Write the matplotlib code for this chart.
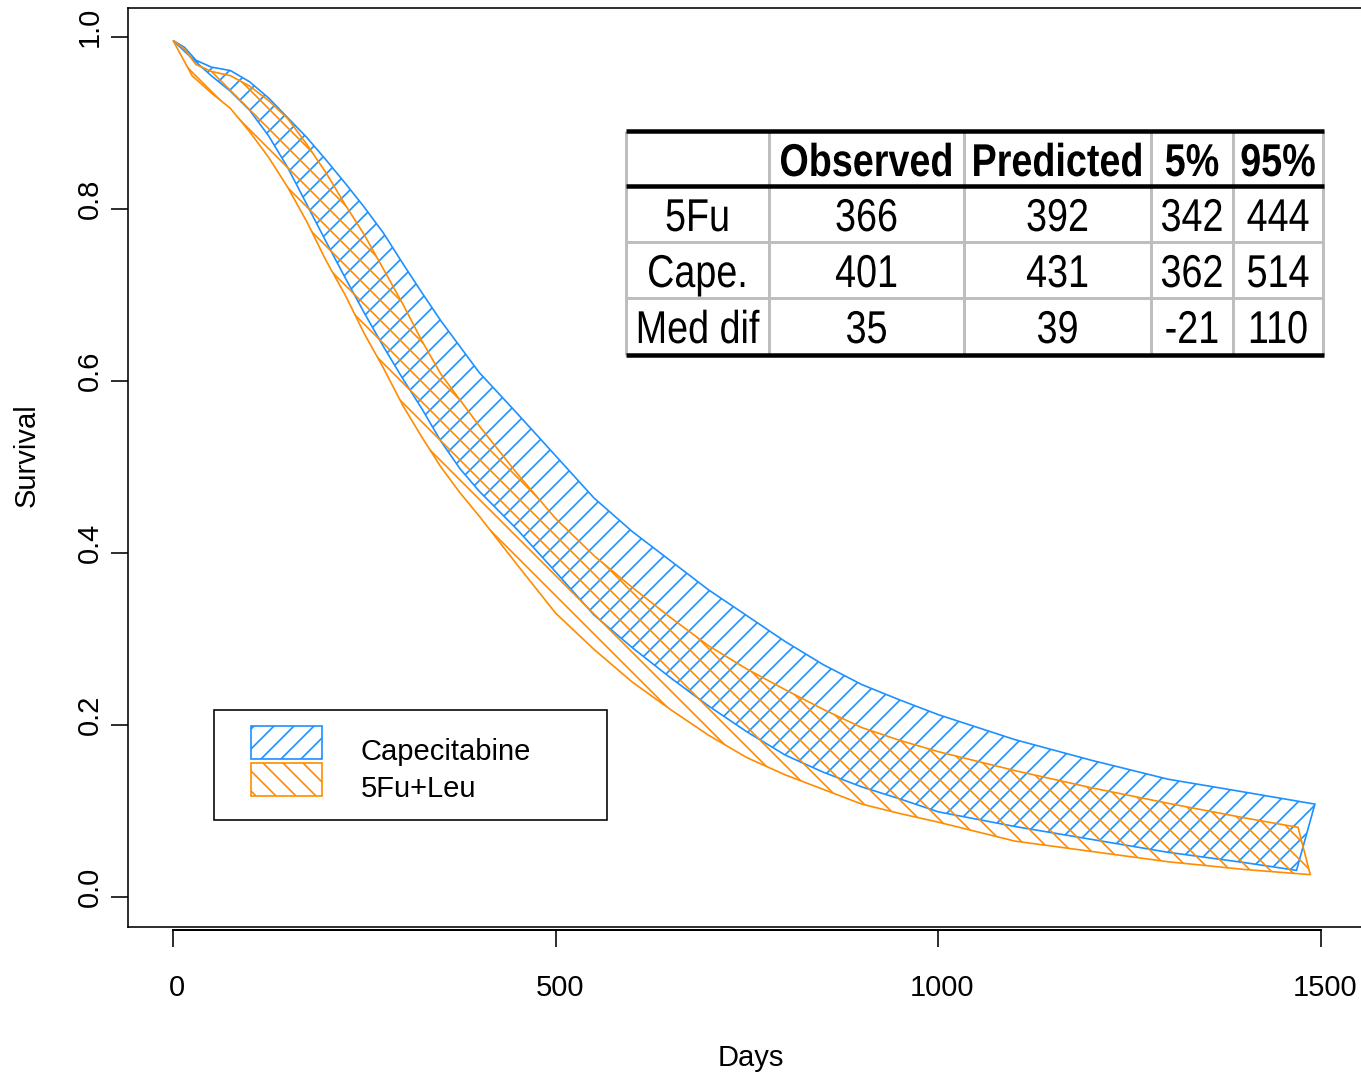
import matplotlib
matplotlib.use("Agg")
import matplotlib.pyplot as plt
from matplotlib.patches import Rectangle
from matplotlib.patheffects import AbstractPathEffect
from matplotlib.transforms import Affine2D, ScaledTranslation

W, H, DPI = 1361, 1073, 120

# survival bands: (days, survival)
cape_hi_days = [0, 15, 30, 50, 75, 100, 125, 150, 175, 200, 225, 250, 275, 300, 325, 350,
                375, 400, 450, 500, 550, 600, 650, 700, 750, 800, 850, 900, 950, 1000,
                1100, 1200, 1300, 1400, 1492]
cape_hi_surv = [0.996, 0.988, 0.973, 0.965, 0.961, 0.948, 0.929, 0.906, 0.883, 0.857, 0.830,
                0.802, 0.772, 0.737, 0.703, 0.670, 0.640, 0.610, 0.562, 0.513, 0.464, 0.425,
                0.391, 0.357, 0.327, 0.297, 0.270, 0.247, 0.229, 0.212, 0.183, 0.159, 0.137,
                0.122, 0.108]
cape_lo_days = [0, 25, 50, 75, 100, 125, 150, 175, 200, 225, 250, 275, 300, 325, 350, 375,
                400, 450, 500, 550, 600, 650, 700, 750, 800, 850, 900, 950, 1000, 1100,
                1200, 1300, 1400, 1468]
cape_lo_surv = [0.996, 0.975, 0.955, 0.937, 0.915, 0.885, 0.848, 0.805, 0.762, 0.720, 0.679,
                0.640, 0.603, 0.568, 0.530, 0.498, 0.472, 0.427, 0.378, 0.328, 0.290, 0.255,
                0.222, 0.192, 0.165, 0.145, 0.128, 0.114, 0.099, 0.082, 0.067, 0.052, 0.040,
                0.031]

fu_hi_days = [0, 15, 30, 50, 75, 100, 125, 150, 175, 200, 225, 250, 275, 300, 325, 350,
              375, 400, 450, 500, 550, 600, 650, 700, 750, 800, 850, 900, 950, 1000, 1100,
              1200, 1300, 1400, 1470]
fu_hi_surv = [0.996, 0.986, 0.968, 0.960, 0.955, 0.943, 0.926, 0.905, 0.875, 0.842, 0.805,
              0.770, 0.730, 0.690, 0.647, 0.608, 0.578, 0.548, 0.492, 0.440, 0.397, 0.360,
              0.325, 0.292, 0.265, 0.241, 0.218, 0.197, 0.182, 0.169, 0.147, 0.127, 0.109,
              0.092, 0.081]
fu_lo_days = [0, 25, 50, 75, 100, 125, 150, 175, 200, 225, 250, 275, 300, 325, 350, 375,
              400, 450, 500, 550, 600, 650, 700, 750, 800, 850, 900, 950, 1000, 1100, 1200,
              1300, 1400, 1486]
fu_lo_surv = [0.996, 0.955, 0.935, 0.917, 0.890, 0.860, 0.825, 0.785, 0.740, 0.700, 0.655,
              0.615, 0.572, 0.535, 0.500, 0.470, 0.443, 0.386, 0.330, 0.288, 0.250, 0.218,
              0.188, 0.162, 0.142, 0.125, 0.108, 0.097, 0.087, 0.065, 0.053, 0.041, 0.032,
              0.026]

legend_labels = ["Capecitabine", "5Fu+Leu"]

table_header = ["", "Observed", "Predicted", "5%", "95%"]
table_rows = ["5Fu", "Cape.", "Med dif"]
observed = [366, 401, 35]
predicted = [392, 431, 39]
q05 = [342, 362, -21]
q95 = [444, 514, 110]

BLUE = "#1E90FF"
ORANGE = "#FF8C00"
GRAY = "#BEBEBE"


def pt(px):
    return px * 72.0 / DPI


class Squeeze(AbstractPathEffect):
    # narrow the glyphs around a fixed x (display pixels), like Arial Narrow
    def __init__(self, cx, sx=0.82):
        super().__init__()
        self.cx = cx
        self.sx = sx

    def draw_path(self, renderer, gc, tpath, affine, rgbFace=None):
        t = affine + Affine2D().translate(-self.cx, 0).scale(self.sx, 1).translate(self.cx, 0)
        renderer.draw_path(gc, tpath, t, rgbFace)


plt.rcParams["font.family"] = ["Liberation Sans", "DejaVu Sans"]
plt.rcParams["hatch.linewidth"] = 1.0

fig = plt.figure(figsize=(W / DPI, H / DPI), dpi=DPI)

# axes box: left 128px, top 8px, bottom 927px, right edge off the canvas
ppd = 1148 / 1500.0
xmin = -45 / ppd
xmax = xmin + 1239 / ppd
ax = fig.add_axes([128 / W, (H - 927) / H, 1239 / W, 919 / H])
ax.set_xlim(xmin, xmax)
ax.set_ylim((897 - 927) / 860.0, (897 - 8) / 860.0)

# bands
ax.fill(cape_hi_days + cape_lo_days[::-1], cape_hi_surv + cape_lo_surv[::-1],
        facecolor="none", edgecolor=BLUE, hatch="//", lw=1.0)
ax.fill(fu_hi_days + fu_lo_days[::-1], fu_hi_surv + fu_lo_surv[::-1],
        facecolor="none", edgecolor=ORANGE, hatch="\\\\", lw=1.0)

# frame, R style
for s in ["top", "left", "right"]:
    ax.spines[s].set_linewidth(pt(1.6))
ax.spines["bottom"].set_position(("outward", pt(3)))
ax.spines["bottom"].set_bounds(0, 1500)
ax.spines["bottom"].set_linewidth(pt(2))
ax.plot([0, 1], [0, 0], transform=ax.transAxes, color="black", lw=pt(1.6), clip_on=False)

ax.set_xticks([0, 500, 1000, 1500])
ax.set_xticklabels(["0", "500", "1000", "1500"])
ax.set_yticks([0.0, 0.2, 0.4, 0.6, 0.8, 1.0])
ax.set_yticklabels(["0.0", "0.2", "0.4", "0.6", "0.8", "1.0"])
ax.tick_params(axis="both", length=pt(17), width=pt(1.6), labelsize=17.5, color="black")
ax.tick_params(axis="x", pad=pt(27))
ax.tick_params(axis="y", pad=pt(7), labelrotation=90)
for lab in ax.get_yticklabels():
    lab.set_va("center")
    lab.set_transform(lab.get_transform() + ScaledTranslation(0, 10 / DPI, fig.dpi_scale_trans))
for lab in ax.get_xticklabels():
    lab.set_transform(lab.get_transform() + ScaledTranslation(4 / DPI, 0, fig.dpi_scale_trans))

fig.text(751 / W, 1 - 1066 / H, "Days", ha="center", va="baseline", fontsize=17.5)
fig.text(27 / W, 1 - 455 / H, "Survival", ha="center", va="center", rotation=90, fontsize=17.5)

# overlay in pixel coordinates for the legend and the table
ov = fig.add_axes([0, 0, 1, 1], zorder=5)
ov.set_xlim(0, W)
ov.set_ylim(H, 0)
ov.axis("off")

# legend
ov.add_patch(Rectangle((214.5, 709.5), 393, 110, facecolor="white", edgecolor="black", lw=pt(1.6)))
for i, (lab, col, hat) in enumerate(zip(legend_labels, [BLUE, ORANGE], ["//", "\\\\"])):
    y = 726 + i * 37
    ov.add_patch(Rectangle((251, y), 71, 33, facecolor="none", edgecolor=col, hatch=hat, lw=1.0))
    ov.text(361, y + 34, lab, ha="left", va="baseline", fontsize=17.5)

# table
col_x = [626, 769, 964, 1151, 1233, 1323]
row_y = [131, 186, 242, 298, 355]
ov.add_patch(Rectangle((col_x[0], row_y[0]), col_x[-1] - col_x[0], row_y[-1] - row_y[0],
                       facecolor="white", edgecolor="none"))
for x in col_x:
    ov.plot([x, x], [row_y[0], row_y[-1]], color=GRAY, lw=pt(3), solid_capstyle="butt")
for y in row_y[2:4]:
    ov.plot([col_x[0], col_x[-1]], [y, y], color=GRAY, lw=pt(3), solid_capstyle="butt")
for y in [row_y[0], row_y[1], row_y[-1]]:
    ov.plot([col_x[0], col_x[-1] + 1], [y, y], color="black", lw=pt(4.5), solid_capstyle="butt")

centers = [(col_x[i] + col_x[i + 1]) / 2 for i in range(5)]
for j, h in enumerate(table_header):
    ov.text(centers[j], row_y[0] + 45, h, ha="center", va="baseline", fontsize=27.6,
            fontweight="bold", path_effects=[Squeeze(centers[j])])
for i, name in enumerate(table_rows):
    vals = [name, observed[i], predicted[i], q05[i], q95[i]]
    for j, v in enumerate(vals):
        ov.text(centers[j], row_y[i + 1] + 45, str(v), ha="center", va="baseline",
                fontsize=27.6, path_effects=[Squeeze(centers[j])])

fig.savefig("out.png", dpi=DPI)
